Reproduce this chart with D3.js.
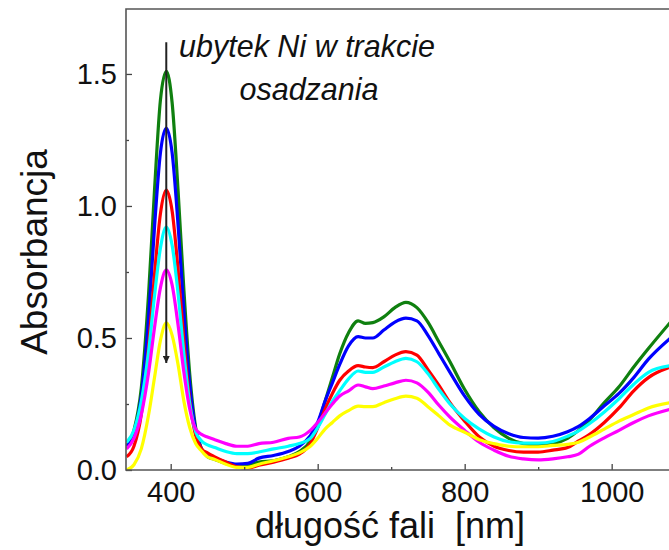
<!DOCTYPE html>
<html lang="pl">
<head>
<meta charset="UTF-8">
<title>Absorbancja</title>
<script src="https://d3js.org/d3.v7.min.js"></script>
<style>
    body { margin: 0; background: #fff; }
    svg text { font-family: "Liberation Sans", Arial, sans-serif; fill: #111; }
    .tick text { font-size: 29px; }
    .axis-title { font-size: 36px; white-space: pre; }
    .note { font-size: 30.5px; font-style: italic; }
</style>
</head>
<body>
<div id="chart"></div>
<script>
// wavelength grid [nm]
const wavelengths = [340, 350, 360, 370, 378, 386, 394, 402, 410, 418,
    426, 434, 442, 450, 460, 475, 490, 505, 520, 540,
    560, 575, 590, 600, 610, 620, 630, 642, 655, 665,
    675, 690, 705, 720, 735, 750, 765, 780, 800, 820,
    840, 860, 880, 900, 920, 940, 955, 970, 990, 1010,
    1030, 1050, 1080];

// absorbance, one array per spectrum (Ni loss during deposition)
const absGreen = [0.09, 0.15, 0.31, 0.67, 1.06, 1.40, 1.51, 1.39, 1.06, 0.68,
    0.36, 0.16, 0.08, 0.05, 0.04, 0.025, 0.018, 0.02, 0.03, 0.035,
    0.05, 0.07, 0.11, 0.17, 0.26, 0.35, 0.44, 0.52, 0.565, 0.555,
    0.558, 0.58, 0.615, 0.635, 0.615, 0.56, 0.485, 0.41, 0.305, 0.22,
    0.16, 0.12, 0.10, 0.095, 0.10, 0.12, 0.15, 0.19, 0.255, 0.315,
    0.39, 0.46, 0.56];
const absBlue = [0.09, 0.14, 0.28, 0.58, 0.92, 1.20, 1.295, 1.20, 0.93, 0.60,
    0.32, 0.15, 0.08, 0.055, 0.045, 0.03, 0.022, 0.025, 0.045, 0.055,
    0.07, 0.09, 0.13, 0.18, 0.26, 0.33, 0.40, 0.47, 0.505, 0.50,
    0.50, 0.53, 0.56, 0.575, 0.565, 0.51, 0.44, 0.37, 0.28, 0.21,
    0.165, 0.137, 0.123, 0.121, 0.128, 0.145, 0.165, 0.195, 0.243, 0.29,
    0.35, 0.42, 0.50];
const absRed = [0.05, 0.09, 0.21, 0.47, 0.74, 0.97, 1.06, 0.98, 0.76, 0.49,
    0.26, 0.13, 0.08, 0.065, 0.05, 0.03, 0.012, 0.008, 0.018, 0.03,
    0.045, 0.06, 0.10, 0.16, 0.23, 0.29, 0.34, 0.375, 0.395, 0.39,
    0.388, 0.41, 0.435, 0.448, 0.435, 0.38, 0.32, 0.255, 0.185, 0.125,
    0.09, 0.074, 0.068, 0.068, 0.075, 0.085, 0.11, 0.135, 0.18, 0.235,
    0.30, 0.35, 0.39];
const absCyan = [0.105, 0.15, 0.26, 0.45, 0.66, 0.84, 0.92, 0.85, 0.67, 0.44,
    0.25, 0.145, 0.11, 0.095, 0.085, 0.07, 0.062, 0.062, 0.068, 0.08,
    0.09, 0.10, 0.12, 0.16, 0.21, 0.26, 0.30, 0.345, 0.375, 0.37,
    0.37, 0.39, 0.41, 0.423, 0.41, 0.365, 0.305, 0.25, 0.195, 0.155,
    0.125, 0.107, 0.102, 0.102, 0.108, 0.128, 0.148, 0.176, 0.22, 0.27,
    0.325, 0.37, 0.395];
const absMagenta = [0.08, 0.12, 0.21, 0.37, 0.54, 0.69, 0.758, 0.70, 0.55, 0.37,
    0.23, 0.155, 0.135, 0.125, 0.115, 0.10, 0.09, 0.09, 0.10, 0.105,
    0.12, 0.125, 0.15, 0.18, 0.215, 0.25, 0.28, 0.30, 0.322, 0.315,
    0.308, 0.318, 0.33, 0.34, 0.33, 0.295, 0.245, 0.20, 0.15, 0.105,
    0.075, 0.052, 0.042, 0.038, 0.042, 0.05, 0.06, 0.09, 0.122, 0.15,
    0.18, 0.205, 0.23];
const absYellow = [0.0, 0.02, 0.08, 0.21, 0.35, 0.49, 0.557, 0.51, 0.40, 0.26,
    0.16, 0.10, 0.072, 0.05, 0.04, 0.022, 0.01, 0.01, 0.022, 0.035,
    0.05, 0.065, 0.09, 0.12, 0.155, 0.18, 0.205, 0.225, 0.242, 0.24,
    0.24, 0.255, 0.27, 0.28, 0.272, 0.24, 0.205, 0.17, 0.143, 0.115,
    0.1, 0.09, 0.088, 0.088, 0.093, 0.097, 0.105, 0.125, 0.155, 0.185,
    0.21, 0.235, 0.255];

const seriesValues = [absGreen, absBlue, absRed, absCyan, absMagenta, absYellow];
const seriesColors = ["#0f800f", "#0000ff", "#ff0000", "#00ffff", "#ff00ff", "#ffff00"];

const xTicks = [400, 600, 800, 1000];
const xMinorTicks = [500, 700, 900];
const yTicks = [0.0, 0.5, 1.0, 1.5];
const yMinorTicks = [0.25, 0.75, 1.25];

// arrow: peak position, from / to absorbance
const arrowX = 394;
const arrowFrom = 1.62;
const arrowTo = 0.405;

const width = 669, height = 550;
const plot = { left: 126, top: 9, right: 669, bottom: 470 };

const x = d3.scaleLinear().domain([339.2, 1078]).range([plot.left, plot.right]);
const y = d3.scaleLinear().domain([0, 1.746]).range([plot.bottom, plot.top]);

const svg = d3.select("#chart").append("svg")
    .attr("width", width)
    .attr("height", height);

svg.append("defs").append("clipPath").attr("id", "clip")
    .append("rect")
    .attr("x", plot.left).attr("y", plot.top)
    .attr("width", plot.right - plot.left)
    .attr("height", plot.bottom - plot.top);

svg.append("defs").append("marker")
    .attr("id", "head")
    .attr("viewBox", "0 0 10 10")
    .attr("refX", 10).attr("refY", 5)
    .attr("markerWidth", 7).attr("markerHeight", 7)
    .attr("markerUnits", "userSpaceOnUse")
    .attr("orient", "auto")
    .append("path")
    .attr("d", "M0,0 L10,5 L0,10 z")
    .attr("fill", "#222");

// spectra
const line = d3.line()
    .x((d, i) => x(wavelengths[i]))
    .y(d => y(d))
    .curve(d3.curveMonotoneX);

svg.append("g").attr("clip-path", "url(#clip)")
    .selectAll("path")
    .data(seriesValues)
    .join("path")
    .attr("d", d => line(d))
    .attr("fill", "none")
    .attr("stroke", (d, i) => seriesColors[i])
    .attr("stroke-width", 3.2)
    .attr("stroke-linejoin", "round");

// arrow
svg.append("line")
    .attr("x1", x(arrowX)).attr("x2", x(arrowX))
    .attr("y1", y(arrowFrom)).attr("y2", y(arrowTo))
    .attr("stroke", "#222")
    .attr("stroke-width", 2)
    .attr("marker-end", "url(#head)");

// axes
svg.append("g")
    .attr("transform", `translate(0,${plot.bottom})`)
    .call(d3.axisBottom(x).tickValues(xTicks).tickSizeInner(-6).tickSizeOuter(0).tickPadding(11).tickFormat(d3.format("d")));
svg.append("g")
    .attr("transform", `translate(0,${plot.bottom})`)
    .call(d3.axisBottom(x).tickValues(xMinorTicks).tickSizeInner(-3).tickSizeOuter(0).tickFormat(""));

svg.append("g")
    .attr("transform", `translate(${plot.left},0)`)
    .call(d3.axisLeft(y).tickValues(yTicks).tickSizeInner(-6).tickSizeOuter(0).tickPadding(9).tickFormat(d3.format(".1f")));
svg.append("g")
    .attr("transform", `translate(${plot.left},0)`)
    .call(d3.axisLeft(y).tickValues(yMinorTicks).tickSizeInner(-3).tickSizeOuter(0).tickFormat(""));

svg.selectAll(".domain").remove();
svg.selectAll(".tick line").attr("stroke", "#444").attr("stroke-width", 1.3);
svg.selectAll(".tick text").attr("fill", "#111");

// frame
svg.append("path")
    .attr("d", `M${plot.right + 5},${plot.top} H${plot.left} V${plot.bottom} H${plot.right + 5}`)
    .attr("fill", "none")
    .attr("stroke", "#555")
    .attr("stroke-width", 1.6);

// labels
svg.append("text")
    .attr("class", "axis-title")
    .attr("x", 390).attr("y", 538)
    .attr("text-anchor", "middle")
    .text("długość fali  [nm]");

svg.append("text")
    .attr("class", "axis-title")
    .attr("transform", "translate(47,252) rotate(-90)")
    .attr("text-anchor", "middle")
    .style("font-size", "37px")
    .text("Absorbancja");

svg.append("text")
    .attr("class", "note")
    .attr("x", 307).attr("y", 57)
    .attr("text-anchor", "middle")
    .text("ubytek Ni w trakcie");
svg.append("text")
    .attr("class", "note")
    .attr("x", 309).attr("y", 100)
    .attr("text-anchor", "middle")
    .text("osadzania");
</script>
</body>
</html>
